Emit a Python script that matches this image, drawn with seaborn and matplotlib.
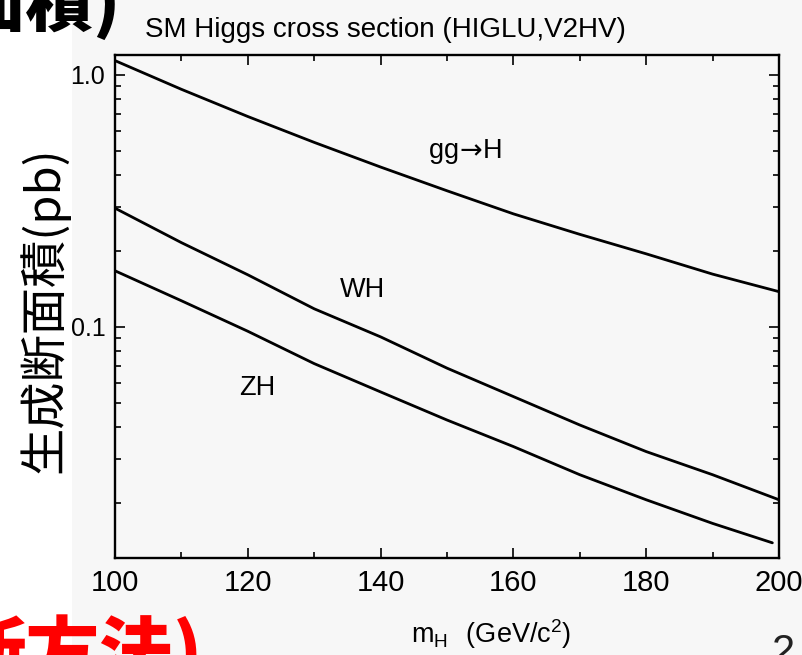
import matplotlib
matplotlib.use("Agg")
import matplotlib.pyplot as plt
from matplotlib.patches import Rectangle
from matplotlib.ticker import FixedLocator, FixedFormatter, LogLocator, NullFormatter, MultipleLocator
import numpy as np
import pandas as pd
import seaborn as sns

# Higgs production cross sections (pb) vs Higgs mass (GeV/c^2)
mass = [100, 110, 120, 130, 140, 150, 160, 170, 180, 190, 200]
mass_zh = [100, 110, 120, 130, 140, 150, 160, 170, 180, 190, 199]
xsec_gg = [1.14, 0.877, 0.684, 0.540, 0.431, 0.347, 0.281, 0.233, 0.195, 0.162, 0.138]
xsec_wh = [0.296, 0.216, 0.161, 0.118, 0.0913, 0.0686, 0.0529, 0.0408, 0.0320, 0.0259, 0.0206]
xsec_zh = [0.167, 0.127, 0.0961, 0.0715, 0.0552, 0.0427, 0.0335, 0.0259, 0.0206, 0.0166, 0.0139]

process_names = ["gg→H", "WH", "ZH"]
process_labels = [r"gg$\!\rightarrow\!$H", "WH", "ZH"]
# label anchor points (mass, cross section)
label_mass = [152.7, 137.2, 121.4]
label_xsec = [0.495, 0.140, 0.0573]

y_ticks = [0.1, 1.0]
y_tick_labels = ["0.1", "1.0"]
x_ticks = [100, 120, 140, 160, 180, 200]

df = pd.concat([
    pd.DataFrame({"mass": mass, "xsec": xsec_gg, "process": process_names[0]}),
    pd.DataFrame({"mass": mass, "xsec": xsec_wh, "process": process_names[1]}),
    pd.DataFrame({"mass": mass_zh, "xsec": xsec_zh, "process": process_names[2]}),
])

sns.set_theme(style="ticks")

sans = "Liberation Sans"
cjk = "Noto Sans CJK JP"
plt.rcParams["font.family"] = [sans, "DejaVu Sans"]
plt.rcParams["mathtext.fontset"] = "custom"
plt.rcParams["mathtext.rm"] = sans
plt.rcParams["text.color"] = "black"

W, H = 802, 655
fig = plt.figure(figsize=(W / 100, H / 100), dpi=100, facecolor="white")


def fx(px):
    return px / W


def fy(py):
    return 1 - py / H


# light grey slide panel behind the chart
fig.patches.append(Rectangle((fx(72), 0), 1 - fx(72), 1, transform=fig.transFigure,
                             facecolor="#f7f7f7", edgecolor="none", zorder=-10))

ax = fig.add_axes([fx(115), fy(558), fx(779) - fx(115), fy(55) - fy(558)])
ax.set_facecolor("#f7f7f7")

sns.lineplot(data=df, x="mass", y="xsec", units="process", estimator=None,
             color="black", linewidth=2.0, ax=ax, legend=False)

ax.set_yscale("log")
ax.set_xlim(100, 200)
ax.set_ylim(0.0121, 1.20)

ax.xaxis.set_major_locator(FixedLocator(x_ticks))
ax.xaxis.set_minor_locator(MultipleLocator(10))
ax.yaxis.set_major_locator(FixedLocator(y_ticks))
ax.yaxis.set_major_formatter(FixedFormatter(y_tick_labels))
ax.yaxis.set_minor_locator(LogLocator(base=10, subs=np.arange(2, 10)))
ax.yaxis.set_minor_formatter(NullFormatter())

for s in ax.spines.values():
    s.set_visible(True)
    s.set_linewidth(1.7)
    s.set_color("black")

ax.tick_params(which="both", direction="in", top=True, right=True, color="black",
               labelcolor="black", width=1.2)
ax.tick_params(which="major", length=7.2)
ax.tick_params(which="minor", length=4.0)
ax.tick_params(axis="x", which="major", labelsize=21, pad=8)
ax.tick_params(axis="y", which="major", labelsize=18, pad=7)
ax.set_xlabel("")
ax.set_ylabel("")

for name, mx, my, fs in zip(process_labels, label_mass, label_xsec, [19.5, 19.5, 19.5]):
    ax.text(mx, my, name, ha="center", va="center", fontsize=fs, color="black",
            math_fontfamily="dejavusans")

fig.text(fx(145), fy(37), "SM Higgs cross section (HIGLU,V2HV)", ha="left", va="baseline",
         fontsize=20, color="black")
fig.text(fx(491), fy(643), r"$\mathregular{m_H\ \ (GeV/c^2)}$", ha="center", va="baseline",
         fontsize=19.5, color="black")
fig.text(fx(44), fy(310), "生成断面積(pb)", rotation=90, ha="center", va="center",
         fontsize=34, color="black", family=[cjk, "DejaVu Sans"])

# fragments of the surrounding slide
fig.text(fx(-42), fy(26), "面積)", ha="left", va="baseline", fontsize=49,
         fontweight="black", color="black", family=[cjk, "DejaVu Sans"])
fig.text(fx(-48), fy(678), "断方法)", ha="left", va="baseline", fontsize=53,
         fontweight="black", color="#ff0000", family=[cjk, "DejaVu Sans"])
fig.text(fx(783), fy(664), "2", ha="center", va="baseline", fontsize=30,
         color="#222222", family=[sans, "DejaVu Sans"])

fig.savefig("out.png", dpi=100, facecolor="white")
